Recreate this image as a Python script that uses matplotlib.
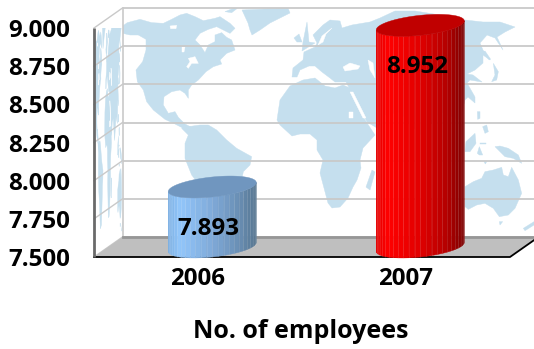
import numpy as np
import matplotlib
matplotlib.use("Agg")
import matplotlib.pyplot as plt
from matplotlib.colors import LinearSegmentedColormap
from matplotlib.patches import Polygon, Rectangle
from matplotlib.ticker import FixedLocator, FuncFormatter
from matplotlib.transforms import Affine2D

years = ["2006", "2007"]
employees = [7.893, 8.952]
y_ticks = [7.5, 7.75, 8.0, 8.25, 8.5, 8.75, 9.0]
x_title = "No. of employees"

W, H = 534, 349
AX_LEFT, AX_RIGHT, AX_BOTTOM, AX_TOP = 94, 510, 257, 28
DEPTH_X, DEPTH_Y = 28.5, 20

plt.rcParams["font.family"] = ["Open Sans", "DejaVu Sans"]
plt.rcParams["font.weight"] = "bold"

fig = plt.figure(figsize=(W / 100, H / 100), dpi=100)
ax = fig.add_axes([AX_LEFT / W, (H - AX_BOTTOM) / H,
                   (AX_RIGHT - AX_LEFT) / W, (AX_BOTTOM - AX_TOP) / H])
ax.set_xlim(-0.5, 1.5)
ax.set_ylim(7.5, 9.0)
for spine in ax.spines.values():
    spine.set_visible(False)
ax.patch.set_visible(False)

# one screen pixel, expressed in data units
PX = 2.0 / (AX_RIGHT - AX_LEFT)
PY = 1.5 / (AX_BOTTOM - AX_TOP)
DX, DY = DEPTH_X * PX, DEPTH_Y * PY
X0, X1 = -0.5, 1.5
Y0, Y1 = 7.5, 9.0


def trace(ox, oy, pts):
    """Outline given on a 3-per-pixel grid with origin (ox, oy)."""
    return [(ox + x / 3, oy + y / 3) for x, y in pts]


# Continents of the wall picture, in figure pixels from the top-left corner
LAND = [
    # North America down to Panama
    trace(120, 0, [(8, 78), (22, 68), (60, 58), (95, 68), (130, 70), (155, 58), (180, 45), (200, 40),
                   (225, 50), (250, 62), (285, 55), (300, 50), (330, 70), (345, 85), (330, 100),
                   (310, 90), (290, 80), (265, 88), (240, 100), (225, 120), (240, 135), (255, 158),
                   (265, 135), (285, 125), (285, 105), (305, 98), (320, 112), (335, 120), (345, 150),
                   (320, 160), (300, 180), (305, 192), (280, 200), (258, 215), (235, 240), (215, 255),
                   (205, 270), (205, 295), (195, 280), (180, 270), (155, 275), (132, 290), (130, 315),
                   (145, 340), (165, 335), (175, 352), (195, 372), (220, 385), (226, 400), (240, 400),
                   (232, 415), (215, 400), (190, 385), (165, 372), (135, 358), (100, 330), (80, 305),
                   (70, 270), (52, 245), (48, 210), (68, 185), (78, 150), (78, 118), (55, 105),
                   (30, 105), (8, 100)]),
    # South America
    trace(120, 110, [(185, 55), (205, 50), (240, 45), (265, 45), (290, 60), (320, 90), (350, 115),
                     (395, 140), (390, 165), (370, 185), (365, 210), (330, 300), (280, 310),
                     (250, 240), (215, 195), (195, 145), (195, 100), (205, 75)]),
    # Greenland
    [(242, 10), (288, 8), (290, 13), (280, 18), (270, 23), (260, 30), (252, 35), (250, 30), (248, 23)],
    trace(120, 0, [(315, 35), (340, 25), (352, 25), (335, 38)]),
    # Eurasia with Arabia
    [(292, 77), (293, 68), (303, 60), (304, 52), (315, 47), (317, 43), (313, 35), (323, 25), (330, 20),
     (340, 21), (342, 28), (352, 25), (370, 22), (380, 18), (395, 11), (415, 11), (440, 15), (465, 20),
     (483, 22), (500, 22), (515, 27), (505, 32), (497, 37), (503, 50), (495, 38), (487, 35), (480, 43),
     (483, 50), (490, 60), (483, 55), (483, 63), (475, 70), (467, 74), (473, 75), (482, 82), (470, 80),
     (467, 83), (475, 97), (475, 103), (468, 97), (465, 100), (460, 120), (440, 112), (420, 135),
     (400, 112), (385, 115), (377, 128), (367, 122), (352, 93), (346, 82), (335, 82), (330, 78),
     (322, 72), (315, 66), (309, 66), (300, 70), (297, 77)],
    [(307, 22), (309, 42), (315, 43), (302, 51), (303, 42)],
    [(294, 38), (299, 34), (302, 42), (297, 42)],
    # Africa
    [(277, 120), (280, 100), (290, 86), (303, 80), (315, 78), (325, 86), (335, 88), (343, 85), (350, 88),
     (357, 95), (362, 115), (367, 123), (375, 135), (363, 148), (360, 160), (361, 168), (357, 180),
     (353, 187), (348, 198), (340, 207), (332, 208), (328, 203), (320, 173), (323, 160), (317, 150),
     (317, 140), (310, 134), (300, 134), (292, 136), (280, 125)],
    [(366, 187), (372, 170), (375, 172), (370, 190)],
    # Japan and the islands of the south-east
    trace(440, 0, [(160, 190), (175, 215), (170, 240), (155, 245), (165, 225)]),
    trace(440, 0, [(130, 155), (135, 153), (152, 178), (146, 178)]),
    trace(440, 110, [(78, 95), (105, 70), (108, 100), (90, 125), (75, 125)]),
    trace(440, 110, [(112, 130), (118, 110), (128, 135), (118, 135)]),
    trace(440, 110, [(112, 5), (120, 5), (120, 25), (113, 28)]),
    trace(440, 110, [(128, 50), (140, 45), (145, 65), (135, 70)]),
    trace(440, 110, [(165, 110), (180, 108), (205, 115), (235, 135), (245, 160), (220, 145), (195, 140)]),
    trace(440, 110, [(120, 98), (138, 98), (138, 101), (120, 101)]),
    trace(440, 110, [(132, 155), (140, 155), (136, 162)]),
    # Australia, Tasmania, New Zealand
    trace(440, 110, [(75, 230), (100, 215), (125, 205), (135, 185), (160, 180), (185, 172), (190, 195),
                     (205, 200), (215, 172), (235, 210), (245, 250), (225, 295), (205, 315), (178, 320),
                     (160, 295), (135, 280), (110, 285), (85, 298), (75, 290)]),
    trace(440, 110, [(178, 335), (188, 335), (180, 345)]),
    trace(440, 110, [(250, 355), (282, 335), (282, 345), (255, 362)]),
]
# Inland water painted back over the land
WATER = [
    trace(120, 0, [(205, 175), (225, 170), (235, 190), (215, 190), (205, 205), (200, 200), (210, 185)]),
    trace(120, 0, [(150, 78), (170, 76), (168, 86), (152, 86)]),
    [(182, 47), (185, 47), (184, 52), (182, 52)],
    [(332, 28), (326, 34), (323, 42), (318, 45), (322, 36)],
    [(343, 67), (350, 63), (360, 66), (358, 69), (345, 71)],
    [(368, 60), (373, 63), (375, 78), (370, 70)],
    [(350, 92), (353, 92), (366, 118), (363, 118)],
    [(349, 112), (353, 112), (353, 118), (349, 118)],
]
LAND_COLOR = "#C5DFEE"

pixels = Affine2D().scale(1, -1).translate(0, H)
# Side-wall projection: the same picture squeezed into the receding panel
squeeze = DEPTH_X / 412
side = Affine2D(np.array([[squeeze, 0, AX_LEFT - 122 * squeeze],
                          [-DEPTH_Y / 412, 1, DEPTH_Y + 122 * DEPTH_Y / 412],
                          [0, 0, 1]]))

back_wall = Rectangle((X0 + DX, Y0 + DY), 3, Y1 - Y0, fc="white", ec="none", zorder=1, clip_on=False)
ax.add_patch(back_wall)
side_wall = Polygon([(X0, Y0), (X0 + DX, Y0 + DY), (X0 + DX, Y1 + DY), (X0, Y1)],
                    fc="white", ec="none", zorder=1, clip_on=False)
ax.add_patch(side_wall)

for shapes, colour in ((LAND, LAND_COLOR), (WATER, "white")):
    for shape in shapes:
        front = Polygon(shape, closed=True, fc=colour, ec=colour, lw=0.3,
                        transform=pixels, zorder=1.5)
        ax.add_patch(front)
        front.set_clip_path(back_wall)
        wall = Polygon(shape, closed=True, fc=colour, ec=colour, lw=0.3,
                       transform=side + pixels, zorder=1.5)
        ax.add_patch(wall)
        wall.set_clip_path(side_wall)

# Gridlines run across the back wall and down the side wall
GRID = "#C9C9C9"
for tick in y_ticks:
    ax.plot([X0 + DX, X1 + DX], [tick + DY, tick + DY], color=GRID, lw=1.3, zorder=2, clip_on=False,
            solid_capstyle="butt")
    ax.plot([X0, X0 + DX], [tick, tick + DY], color=GRID, lw=1.0, zorder=2, clip_on=False)
ax.plot([X0 + DX, X0 + DX], [Y0 + DY, Y1 + DY], color=GRID, lw=1.2, zorder=2, clip_on=False)

# Floor
ax.add_patch(Polygon([(X0, Y0), (X1, Y0), (X1 + DX, Y0 + DY), (X0 + DX, Y0 + DY)],
                     fc="#BFBFBF", ec="none", zorder=3, clip_on=False))
ax.plot([X0 + DX, X1 + DX], [Y0 + DY, Y0 + DY], color="#969696", lw=2.0, zorder=3.1, clip_on=False)
ax.plot([X0, X1, X1 + DX], [Y0, Y0, Y0 + DY], color="black", lw=1.3, zorder=3.2, clip_on=False)
ax.plot([X0, X0], [Y0, Y1], color="#6A6A6A", lw=2.0, zorder=3.2, clip_on=False, solid_capstyle="butt")

# Cylinders, built from vertical facets
RADIUS_X, RADIUS_Y, SHEAR = 44, 10, 4.5
FACETS = 24
body_maps = [
    LinearSegmentedColormap.from_list("blue_body", [(0, "#7DB0E2"), (0.13, "#92C6FB"), (0.5, "#7FA9D8"),
                                                    (0.8, "#6A8FB5"), (1, "#567590")]),
    LinearSegmentedColormap.from_list("red_body", [(0, "#E40000"), (0.13, "#FF0000"), (0.5, "#E00000"),
                                                   (0.8, "#B40000"), (1, "#7E0000")]),
]
cap_colors = ["#7096BF", "#C00000"]


def rim(i, level, angles):
    xs = i + DX / 2 + RADIUS_X * PX * np.cos(angles)
    ys = level + DY / 2 + PY * (RADIUS_Y * np.sin(angles) + SHEAR * np.cos(angles))
    return np.column_stack([xs, ys])


for i, value in enumerate(employees):
    edges = np.linspace(np.pi, 2 * np.pi, FACETS + 1)
    for k in range(FACETS):
        pair = edges[k:k + 2]
        shade = body_maps[i](0.5 * (1 + np.cos(pair.mean())))
        quad = np.vstack([rim(i, Y0, pair), rim(i, value, pair)[::-1]])
        ax.add_patch(Polygon(quad, closed=True, fc=shade, ec=shade, lw=0.3, zorder=4, clip_on=False))
        if k > 0:
            seam = np.vstack([rim(i, Y0, pair[:1]), rim(i, value, pair[:1])])
            ax.plot(seam[:, 0], seam[:, 1], color="white", alpha=0.13, lw=0.5, zorder=4.1, clip_on=False)
    cap = rim(i, value, np.linspace(0, 2 * np.pi, 90))
    ax.add_patch(Polygon(cap, closed=True, fc=cap_colors[i], ec=cap_colors[i], lw=0.3, zorder=4.2,
                         clip_on=False))
    ax.annotate(f"{value:.3f}", xy=(i + DX / 2, value + DY / 2), xytext=(-3.5, -42),
                textcoords="offset pixels", ha="center", va="center", fontsize=17.4,
                fontweight="bold", color="black", zorder=5, annotation_clip=False)

# Axes
ax.xaxis.set_major_locator(FixedLocator(range(len(years))))
ax.xaxis.set_major_formatter(FuncFormatter(lambda v, _: years[int(round(v))]))
ax.yaxis.set_major_locator(FixedLocator(y_ticks))
ax.yaxis.set_major_formatter(FuncFormatter(lambda v, _: f"{v:.3f}"))
ax.tick_params(axis="both", length=0, labelsize=17.4, labelcolor="black")
ax.tick_params(axis="y", pad=17)
ax.tick_params(axis="x", pad=7)
for label in ax.get_xticklabels() + ax.get_yticklabels():
    label.set_fontweight("bold")
ax.set_xlabel(x_title, fontsize=18, fontweight="bold", labelpad=16)
ax.xaxis.set_label_coords(0.4976, -0.27)

fig.savefig("out.png", dpi=100, facecolor="white")
